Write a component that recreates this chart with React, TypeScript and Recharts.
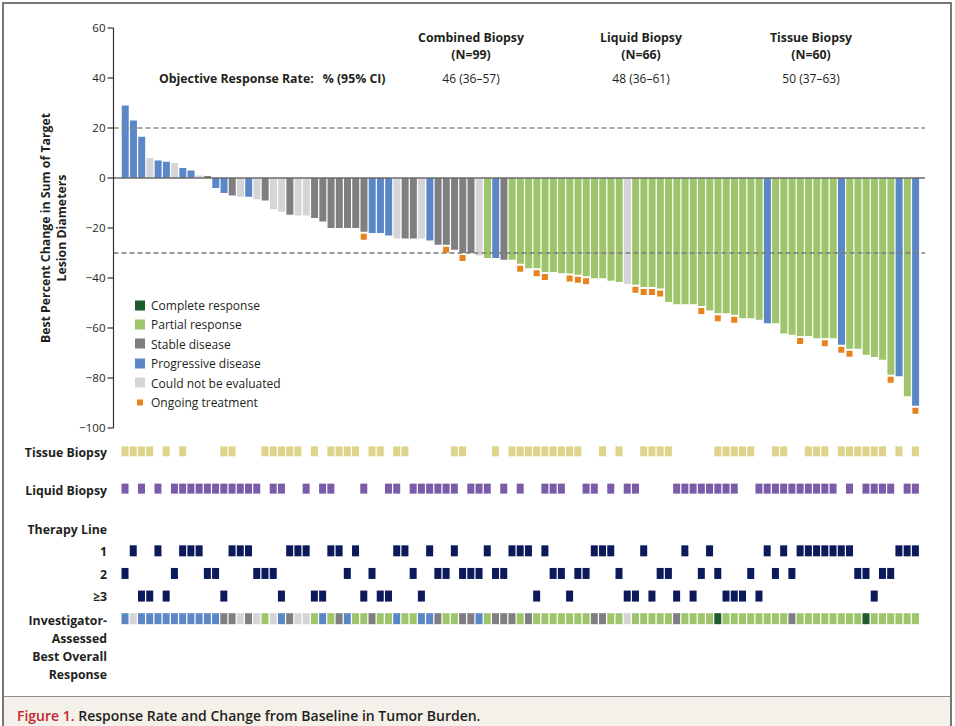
import React from "react";
import {
  ComposedChart,
  Bar,
  Cell,
  Scatter,
  XAxis,
  YAxis,
  ReferenceLine,
} from "recharts";

// best percent change in sum of target lesion diameters, one per patient (left to right)
const bestChange = [
  29, 23, 16.5, 8, 7, 6.5, 6, 4, 3, 1,
  0.8, -4, -6, -7, -7.5, -7.5, -8.5, -9, -12.5, -13.5,
  -14.7, -15, -15, -16, -17.4, -20, -20, -20, -20, -21.5,
  -22, -22, -23, -24.2, -24.2, -24.2, -24.2, -25, -26.7, -26.7,
  -28.7, -30, -30, -31, -32, -32, -32.7, -32.7, -34.3, -36.1,
  -36.1, -37.6, -37.6, -38.1, -38.2, -38.7, -39.3, -40.1, -40.1, -41.1,
  -41.6, -42.4, -42.7, -43.6, -43.6, -44.2, -49.6, -50.5, -50.5, -50.5,
  -51.2, -53, -54.1, -54.1, -54.7, -56.1, -56.1, -56.7, -58.1, -58.1,
  -62.2, -62.7, -63.2, -63.2, -64.1, -64.1, -64.1, -66.7, -68.3, -68.3,
  -70.7, -71.6, -72.7, -78.7, -79.3, -87.3, -91.1,
];

// bar colour (central review)
const centralResponse = [
  "PD", "PD", "PD", "NE", "PD", "PD", "NE", "PD", "PD", "NE",
  "SD", "PD", "PD", "SD", "NE", "PD", "NE", "SD", "NE", "NE",
  "SD", "NE", "NE", "SD", "SD", "SD", "SD", "SD", "SD", "SD",
  "PD", "PD", "PD", "NE", "SD", "SD", "NE", "PD", "SD", "SD",
  "SD", "SD", "SD", "NE", "PR", "PD", "SD", "PR", "PR", "PR",
  "PR", "PR", "PR", "PR", "PR", "PR", "PR", "PR", "PR", "PR",
  "PR", "NE", "PR", "PR", "PR", "PR", "PR", "PR", "PR", "PR",
  "PR", "PR", "PR", "PR", "PR", "PR", "PR", "PR", "PD", "PR",
  "PR", "PR", "PR", "PR", "PR", "PR", "PR", "PD", "PR", "PR",
  "PR", "PR", "PR", "PR", "PD", "PR", "PD",
];

const investigatorResponse = [
  "PD", "NE", "PD", "PD", "PD", "PD", "PD", "PD", "PD", "PD",
  "PD", "PD", "SD", "SD", "NE", "SD", "NE", "PR", "NE", "PD",
  "SD", "NE", "NE", "PR", "PD", "PR", "SD", "PD", "PR", "PR",
  "SD", "PR", "PR", "PD", "PR", "PR", "PD", "PD", "SD", "PR",
  "PR", "SD", "SD", "PD", "PR", "SD", "SD", "SD", "PR", "SD",
  "PR", "PR", "PR", "PR", "PR", "PR", "PR", "SD", "SD", "PR",
  "PR", "NE", "PR", "PR", "PR", "PR", "PR", "SD", "PR", "PR",
  "PR", "PR", "CR", "PR", "PR", "PR", "PR", "PR", "PR", "PR",
  "PR", "SD", "PR", "PR", "PR", "PR", "PR", "PR", "PR", "PR",
  "CR", "PR", "PR", "PR", "PR", "PR", "PR",
];

// 1, 2 or 3 (= ≥3)
const therapyLine = [
  2, 1, 3, 3, 1, 3, 2, 1, 1, 1,
  2, 2, 3, 1, 1, 1, 2, 2, 2, 3,
  1, 1, 1, 3, 3, 1, 1, 2, 1, 3,
  2, 3, 3, 1, 1, 2, 3, 1, 2, 2,
  1, 2, 2, 2, 1, 2, 2, 1, 1, 1,
  3, 1, 2, 2, 3, 2, 2, 1, 1, 1,
  2, 3, 3, 1, 3, 2, 2, 3, 1, 3,
  2, 1, 2, 3, 3, 3, 2, 3, 1, 2,
  1, 2, 1, 1, 1, 1, 1, 1, 1, 2,
  2, 3, 2, 2, 1, 1, 1,
];

// patient positions with a tissue / liquid biopsy, and with ongoing treatment
const tissueBiopsy = [
  0, 1, 2, 3, 5, 7, 12, 13, 17, 18, 19, 20, 21, 23, 25, 26, 27, 28, 30, 31,
  33, 34, 40, 41, 45, 47, 48, 49, 50, 51, 52, 53, 54, 55, 58, 60, 63, 64, 65,
  66, 72, 73, 74, 75, 76, 79, 80, 83, 84, 85, 87, 88, 89, 90, 91, 92, 94, 96,
];
const liquidBiopsy = [
  0, 2, 4, 6, 7, 8, 9, 10, 11, 12, 13, 14, 15, 16, 18, 19, 22, 24, 25, 29, 32,
  33, 35, 36, 37, 38, 39, 40, 42, 43, 44, 46, 48, 51, 52, 53, 56, 57, 59, 61,
  62, 67, 68, 69, 70, 71, 72, 73, 74, 77, 78, 79, 80, 81, 82, 83, 84, 85, 86,
  88, 90, 91, 92, 93, 95, 96,
];
const ongoingTreatment = [
  29, 39, 41, 48, 50, 51, 54, 55, 56, 62, 63, 64, 65, 70, 72, 74, 82, 85, 87,
  88, 93, 96,
];

const yTicks = [60, 40, 20, 0, -20, -40, -60, -80, -100];

const cohortNames = ["Combined Biopsy", "Liquid Biopsy", "Tissue Biopsy"];
const cohortN = ["(N=99)", "(N=66)", "(N=60)"];
const cohortOrr = ["46 (36–57)", "48 (36–61)", "50 (37–63)"];

const responseColor: Record<string, string> = {
  CR: "#1f5b2c",
  PR: "#9fc56c",
  SD: "#7f7f81",
  PD: "#5b87c6",
  NE: "#d5d5d7",
};
const legendItems = [
  { label: "Complete response", color: responseColor.CR },
  { label: "Partial response", color: responseColor.PR },
  { label: "Stable disease", color: responseColor.SD },
  { label: "Progressive disease", color: responseColor.PD },
  { label: "Could not be evaluated", color: responseColor.NE },
];

const ORANGE = "#e8821f";
const TISSUE = "#dfd48b";
const LIQUID = "#7b5ca9";
const NAVY = "#0c1a5b";
const INK = "#231f20";
const FONT = "'Open Sans', Lato, sans-serif";

// vertical slots of the lower rows (hidden axis units)
const ROW = { tissue: 0, liquid: 1.65, 1: 4.4, 2: 5.4, 3: 6.4, response: 7.4 } as any;

const patients = bestChange.map((v, i) => ({
  id: i,
  change: v,
  central: centralResponse[i],
  marker: ongoingTreatment.includes(i) ? v - 2 : null,
  tissueRow: tissueBiopsy.includes(i) ? ROW.tissue : null,
  liquidRow: liquidBiopsy.includes(i) ? ROW.liquid : null,
  lineRow: ROW[therapyLine[i]],
  investigator: investigatorResponse[i],
  respRow: ROW.response,
}));

const square =
  (w: number, h: number, color: (p: any) => string, key: string) =>
  (props: any) => {
    const { cx, cy, payload } = props;
    if (cx == null || cy == null || payload?.[key] == null || Number.isNaN(cy))
      return <g />;
    return (
      <rect
        x={cx - w / 2}
        y={cy - h / 2}
        width={w}
        height={h}
        fill={color(payload)}
      />
    );
  };

const fmt = (v: number) => (v < 0 ? `−${Math.abs(v)}` : `${v}`);

const abs = (x: number, y: number, extra: any = {}) => ({
  position: "absolute" as const,
  left: x,
  top: y,
  whiteSpace: "nowrap" as const,
  ...extra,
});

const BOLD = { fontWeight: 700, fontSize: 12.3 };

export default function App() {
  const centers = [471, 641, 811];
  const rowLabels = [
    { t: "Tissue Biopsy", y: 452 },
    { t: "Liquid Biopsy", y: 490 },
    { t: "Therapy Line", y: 529 },
    { t: "1", y: 551 },
    { t: "2", y: 574 },
    { t: "≥3", y: 596 },
    { t: "Investigator-", y: 620 },
    { t: "Assessed", y: 638 },
    { t: "Best Overall", y: 656 },
    { t: "Response", y: 674 },
  ];
  return (
    <div
      style={{
        position: "absolute",
        left: 0,
        top: 0,
        width: 955,
        height: 726,
        overflow: "hidden",
        background: "#fff",
        fontFamily: FONT,
        color: INK,
      }}
    >
      {/* frame */}
      <div
        style={{
          position: "absolute",
          left: 2,
          top: 2,
          width: 950,
          height: 740,
          border: "2px solid #777",
          boxSizing: "border-box",
        }}
      />
      <div
        style={{
          position: "absolute",
          left: 4,
          top: 696,
          width: 946,
          height: 40,
          background: "#f4f1ea",
          borderTop: "1px solid #8d8d8d",
        }}
      />
      <div style={abs(17, 706, { fontSize: 14, fontWeight: 600 })}>
        <span style={{ color: "#c4262e" }}>Figure 1.</span> Response Rate and
        Change from Baseline in Tumor Burden.
      </div>

      {/* waterfall */}
      <div style={{ position: "absolute", left: 0, top: 0 }}>
        <ComposedChart
          width={955}
          height={440}
          data={patients}
          margin={{ top: 28, right: 30, bottom: 12, left: 53.5 }}
        >
          <XAxis
            dataKey="id"
            type="category"
            scale="band"
            hide
            padding={{ left: 7.4, right: 5.5 }}
          />
          <YAxis
            type="number"
            domain={[-100, 60]}
            ticks={yTicks}
            interval={0}
            width={60}
            tickFormatter={fmt}
            tickSize={6}
            tickMargin={2}
            axisLine={{ stroke: "#333", strokeWidth: 1.2 }}
            tickLine={{ stroke: "#333", strokeWidth: 1.2 }}
            tick={{ fontSize: 11.5, fill: INK, fontFamily: FONT }}
          />
          <Bar dataKey="change" isAnimationActive={false}>
            {patients.map((p) => (
              <Cell key={p.id} fill={responseColor[p.central]} />
            ))}
          </Bar>
          <ReferenceLine y={20} stroke="#8a8a8a" strokeWidth={1.3} strokeDasharray="5 3" />
          <ReferenceLine y={-30} stroke="#7a7a7a" strokeWidth={1.3} strokeDasharray="5 3" />
          <ReferenceLine y={0} stroke="#6b6b6b" strokeWidth={1.5} />
          <Scatter
            dataKey="marker"
            isAnimationActive={false}
            shape={square(6, 6, () => ORANGE, "marker")}
          />
        </ComposedChart>
      </div>

      {/* biopsy / therapy / investigator rows */}
      <div style={{ position: "absolute", left: 0, top: 440 }}>
        <ComposedChart
          width={955}
          height={190}
          data={patients}
          margin={{ top: 0, right: 30, bottom: 0, left: 113.5 }}
        >
          <XAxis
            dataKey="id"
            type="category"
            scale="band"
            hide
            padding={{ left: 7.4, right: 5.5 }}
          />
          <YAxis type="number" hide reversed domain={[-0.5, 7.9]} allowDataOverflow />
          <Scatter
            dataKey="tissueRow"
            isAnimationActive={false}
            shape={square(7, 10, () => TISSUE, "tissueRow")}
          />
          <Scatter
            dataKey="liquidRow"
            isAnimationActive={false}
            shape={square(7, 10, () => LIQUID, "liquidRow")}
          />
          <Scatter
            dataKey="lineRow"
            isAnimationActive={false}
            shape={square(7, 11, () => NAVY, "lineRow")}
          />
          <Scatter
            dataKey="respRow"
            isAnimationActive={false}
            shape={square(7, 11, (p) => responseColor[p.investigator], "respRow")}
          />
        </ComposedChart>
      </div>

      {/* y-axis title */}
      <div
        style={{
          position: "absolute",
          left: 54,
          top: 228,
          width: 300,
          transform: "translate(-50%, -50%) rotate(-90deg)",
          textAlign: "center",
          ...BOLD,
          lineHeight: "16px",
        }}
      >
        Best Percent Change in Sum of Target
        <br />
        Lesion Diameters
      </div>

      {/* header */}
      {centers.map((cx, i) => (
        <React.Fragment key={cx}>
          <div style={abs(cx, 37, { transform: "translate(-50%, -50%)", ...BOLD })}>
            {cohortNames[i]}
          </div>
          <div style={abs(cx, 54, { transform: "translate(-50%, -50%)", ...BOLD })}>
            {cohortN[i]}
          </div>
          <div
            style={abs(cx, 78, {
              transform: "translate(-50%, -50%)",
              fontSize: 12,
            })}
          >
            {cohortOrr[i]}
          </div>
        </React.Fragment>
      ))}
      <div style={abs(159, 78, { transform: "translateY(-50%)", ...BOLD })}>
        Objective Response Rate:
        <span style={{ marginLeft: 9 }}>% (95% CI)</span>
      </div>

      {/* legend */}
      {legendItems.map((it, i) => (
        <div
          key={it.label}
          style={abs(135, 305 + i * 19.4, {
            transform: "translateY(-50%)",
            display: "flex",
            alignItems: "center",
            fontSize: 12,
          })}
        >
          <span
            style={{
              display: "inline-block",
              width: 10,
              height: 10,
              background: it.color,
              marginRight: 6,
            }}
          />
          {it.label}
        </div>
      ))}
      <div
        style={abs(135, 305 + 5 * 19.4, {
          transform: "translateY(-50%)",
          display: "flex",
          alignItems: "center",
          fontSize: 12,
        })}
      >
        <span
          style={{
            display: "inline-block",
            width: 6,
            height: 6,
            background: ORANGE,
            margin: "0 8px 0 2px",
          }}
        />
        Ongoing treatment
      </div>

      {/* row labels */}
      {rowLabels.map((r) => (
        <div
          key={r.t}
          style={{
            position: "absolute",
            right: 955 - 107,
            top: r.y,
            transform: "translateY(-50%)",
            whiteSpace: "nowrap",
            ...BOLD,
          }}
        >
          {r.t}
        </div>
      ))}
    </div>
  );
}
